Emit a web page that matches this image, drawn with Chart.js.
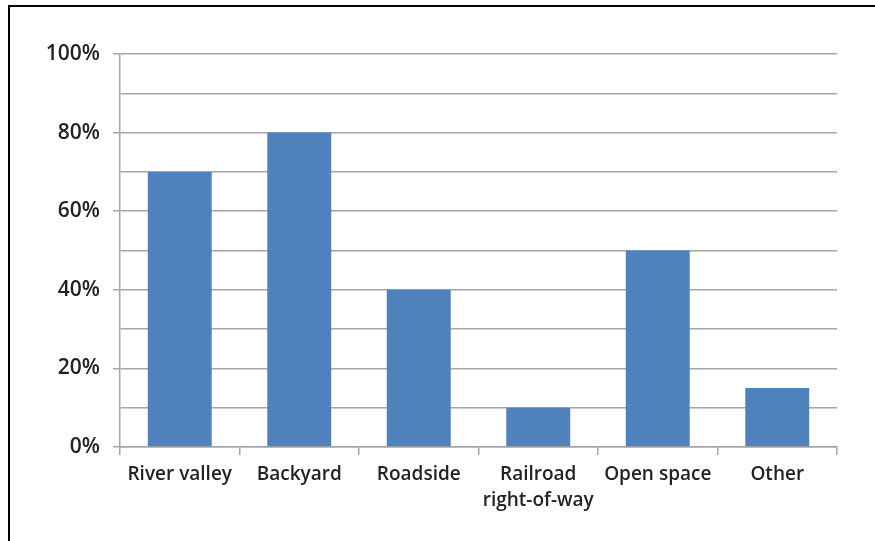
<!DOCTYPE html>
<html>
<head>
<meta charset="utf-8">
<script src="https://cdn.jsdelivr.net/npm/chart.js@4/dist/chart.umd.min.js"></script>
<style>
  html, body { margin: 0; padding: 0; background: #fff; }
  #wrap { position: relative; width: 875px; height: 541px; }
  #frame { position: absolute; left: 8px; top: 5px; right: 0; bottom: 0;
           border-left: 2px solid #000; border-top: 2px solid #000; pointer-events: none; }
  canvas { position: absolute; left: 0; top: 0; }
</style>
</head>
<body>
<div id="wrap">
  <canvas id="c" width="875" height="541"></canvas>
  <div id="frame"></div>
</div>
<script>
// Share of sites where the plant was found, by habitat type
const categories = ['River valley', 'Backyard', 'Roadside', ['Railroad', 'right-of-way'], 'Open space', 'Other'];
const shares = [70, 80, 40, 10, 50, 15];
const yMin = 0, yMax = 100, yStep = 10, labelEvery = 20;

const FAMILY = '"Open Sans", "Liberation Sans", sans-serif';
const X_FONT = { family: FAMILY, size: 19, weight: '600', lineHeight: 1.35 };
const Y_FONT = { family: FAMILY, size: 21, weight: '600' };
const GRID = '#a6a6a6';

new Chart(document.getElementById('c'), {
  type: 'bar',
  data: {
    labels: categories,
    datasets: [{
      data: shares,
      backgroundColor: '#4f81bd',
      borderWidth: 0,
      categoryPercentage: 1,
      barPercentage: 0.535
    }]
  },
  options: {
    responsive: false,
    animation: false,
    layout: { padding: { top: 54, right: 38, left: 0, bottom: 0 } },
    plugins: { legend: { display: false }, tooltip: { enabled: false } },
    scales: {
      x: {
        offset: true,
        grid: {
          offset: true,
          drawOnChartArea: false,
          drawTicks: true,
          tickLength: 8,
          color: GRID,
          lineWidth: 1.5
        },
        border: { color: GRID, width: 1.5 },
        ticks: { color: '#222', font: X_FONT, padding: 7, maxRotation: 0, autoSkip: false },
        afterFit: s => { s.height = 94; }
      },
      y: {
        min: yMin,
        max: yMax,
        ticks: {
          stepSize: yStep,
          color: '#222',
          font: Y_FONT,
          padding: 13,
          callback: v => (v % labelEvery === 0 ? v + '%' : '')
        },
        grid: {
          color: GRID,
          lineWidth: 1.5,
          tickLength: 7,
          tickColor: ctx => (ctx.tick && ctx.tick.value % labelEvery === 0 ? GRID : 'rgba(0,0,0,0)')
        },
        border: { color: GRID, width: 1.5 },
        afterFit: s => { s.width = 120; }
      }
    }
  }
});
</script>
</body>
</html>
